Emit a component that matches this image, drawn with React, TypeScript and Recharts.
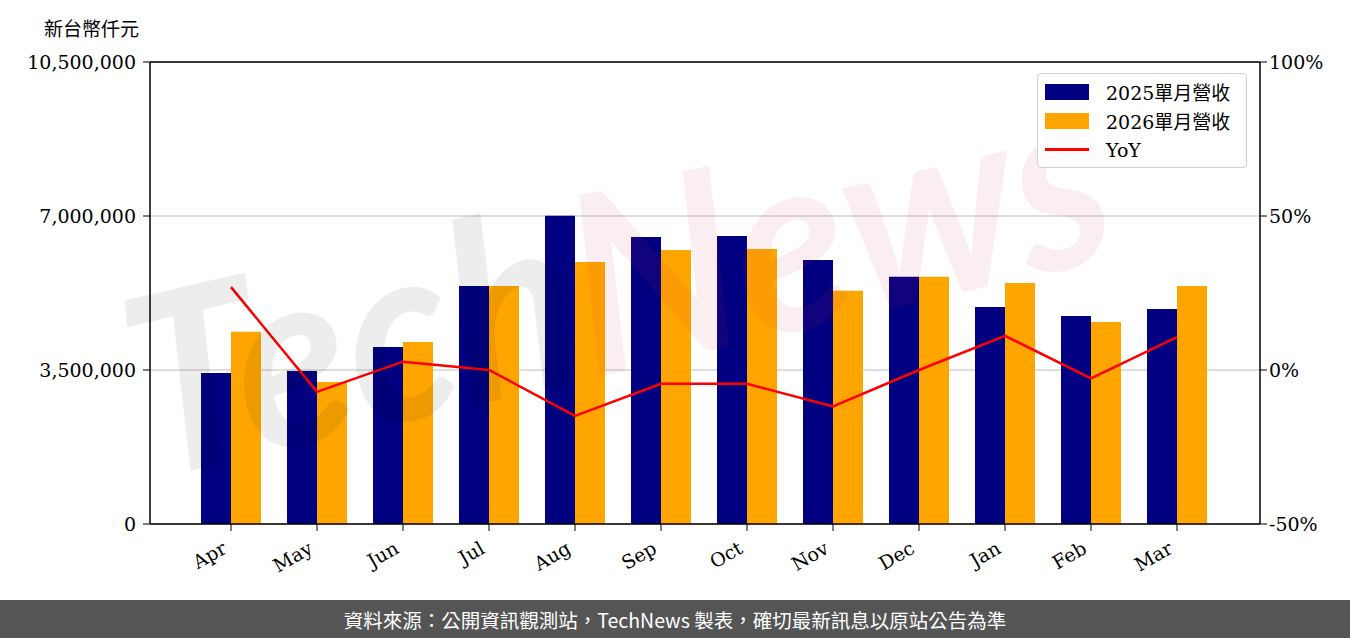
import React from 'react';
import { ComposedChart, Bar, Line, XAxis, YAxis, CartesianGrid, ReferenceLine } from 'recharts';

const months = ['Apr', 'May', 'Jun', 'Jul', 'Aug', 'Sep', 'Oct', 'Nov', 'Dec', 'Jan', 'Feb', 'Mar'];
const rev2025 = [3432000, 3477000, 4023000, 5410000, 7007000, 6523000, 6545000, 6000000, 5620000, 4930000, 4727000, 4886000];
const rev2026 = [4370000, 3227000, 4136000, 5410000, 5955000, 6227000, 6250000, 5300000, 5620000, 5477000, 4590000, 5410000];
const yoy = [26.9, -7.1, 2.7, 0, -14.9, -4.5, -4.5, -11.8, 0, 11.1, -2.7, 10.7];
const leftTicks = [0, 3500000, 7000000, 10500000];
const rightTicks = [-50, 0, 50, 100];

const data = months.map((m, i) => ({ month: m, rev2025: rev2025[i], rev2026: rev2026[i], yoy: yoy[i] }));

const serif = '"DejaVu Serif", "Noto Sans CJK TC", serif';
const NAVY = '#000080';
const ORANGE = '#FFA500';
const RED = '#FF0000';

function MonthTick({ x, y, payload }: any) {
  return (
    <g transform={`translate(${x - 10},${y + 7})`}>
      <text transform="rotate(-30)" textAnchor="end" dy={14} fontSize={19} fontFamily={serif} fill="#000">
        {payload.value}
      </text>
    </g>
  );
}

function LeftTick({ x, y, payload }: any) {
  return (
    <text x={x - 5} y={y} dy={7} textAnchor="end" fontSize={19} fontFamily={serif} fill="#000">
      {Number(payload.value).toLocaleString('en-US')}
    </text>
  );
}

function LegendBox() {
  const row = (swatch: React.ReactNode, label: string) => (
    <div style={{ display: 'flex', alignItems: 'center', height: 29 }}>
      <div style={{ width: 44, display: 'flex', alignItems: 'center' }}>{swatch}</div>
      <span style={{ marginLeft: 17, fontSize: 19, fontFamily: serif, color: '#000' }}>{label}</span>
    </div>
  );
  return (
    <div style={{ position: 'absolute', left: 1037, top: 73, border: '1px solid #d0d0d0', borderRadius: 4, background: 'rgba(255,255,255,0.8)', padding: '3px 7px', boxSizing: 'border-box', width: 210 }}>
      {row(<div style={{ width: 44, height: 16, background: NAVY }} />, '2025單月營收')}
      {row(<div style={{ width: 44, height: 16, background: ORANGE }} />, '2026單月營收')}
      {row(<div style={{ width: 44, height: 3, background: RED }} />, 'YoY')}
    </div>
  );
}

export default function App() {
  return (
    <div style={{ position: 'absolute', left: 0, top: 0, width: 1350, height: 638, background: '#fff', overflow: 'hidden' }}>
      <div style={{ position: 'absolute', left: 44, top: 14, fontSize: 19, fontFamily: serif, color: '#000' }}>新台幣仟元</div>
      <ComposedChart
        width={1350}
        height={600}
        data={data}
        margin={{ top: 62, right: 10, bottom: 16, left: 10 }}
        barGap={0}
        barSize={30}
      >
        <CartesianGrid vertical={false} stroke="#d3d3d3" strokeWidth={1.5} yAxisId="left" />
        <XAxis
          dataKey="month"
          padding={{ left: 38, right: 40 }}
          height={60}
          tick={<MonthTick />}
          tickSize={7}
          axisLine={{ stroke: '#000', strokeWidth: 1.5 }}
          tickLine={{ stroke: '#000' }}
          interval={0}
        />
        <YAxis
          yAxisId="left"
          width={140}
          domain={[0, 10500000]}
          ticks={leftTicks}
          tick={<LeftTick />}
          tickSize={7}
          axisLine={{ stroke: '#000', strokeWidth: 1.5 }}
          tickLine={{ stroke: '#000' }}
        />
        <YAxis
          yAxisId="right"
          orientation="right"
          width={80}
          domain={[-50, 100]}
          ticks={rightTicks}
          tickFormatter={(v: number) => `${v}%`}
          tick={{ fontSize: 19, fontFamily: serif, fill: '#000' }}
          tickSize={7}
          axisLine={{ stroke: '#000', strokeWidth: 1.5 }}
          tickLine={{ stroke: '#000' }}
        />
        <ReferenceLine yAxisId="left" y={10500000} stroke="#000" strokeWidth={1.5} />
        <Bar yAxisId="left" dataKey="rev2025" fill={NAVY} isAnimationActive={false} />
        <Bar yAxisId="left" dataKey="rev2026" fill={ORANGE} isAnimationActive={false} />
        <Line yAxisId="right" dataKey="yoy" stroke={RED} strokeWidth={2.5} dot={false} type="linear" isAnimationActive={false} />
      </ComposedChart>
      <svg width={1350} height={600} style={{ position: 'absolute', left: 0, top: 0, pointerEvents: 'none' }}>
        <g transform="translate(150,480) rotate(-13)">
          <text fontSize={250} fontWeight="bold" fontStyle="italic" fontFamily="Lato, sans-serif" textLength={1000} lengthAdjust="spacingAndGlyphs">
            <tspan fill="rgba(0,0,0,0.07)">Tech</tspan>
            <tspan fill="rgba(210,40,60,0.08)">News</tspan>
          </text>
        </g>
      </svg>
      <LegendBox />
      <div style={{ position: 'absolute', left: 0, top: 600, width: 1350, height: 38, background: '#555555', color: '#fff', fontFamily: '"Noto Sans CJK TC", sans-serif', fontSize: 19.5, display: 'flex', alignItems: 'center', justifyContent: 'center' }}>
        資料來源：公開資訊觀測站，TechNews 製表，確切最新訊息以原站公告為準
      </div>
    </div>
  );
}
